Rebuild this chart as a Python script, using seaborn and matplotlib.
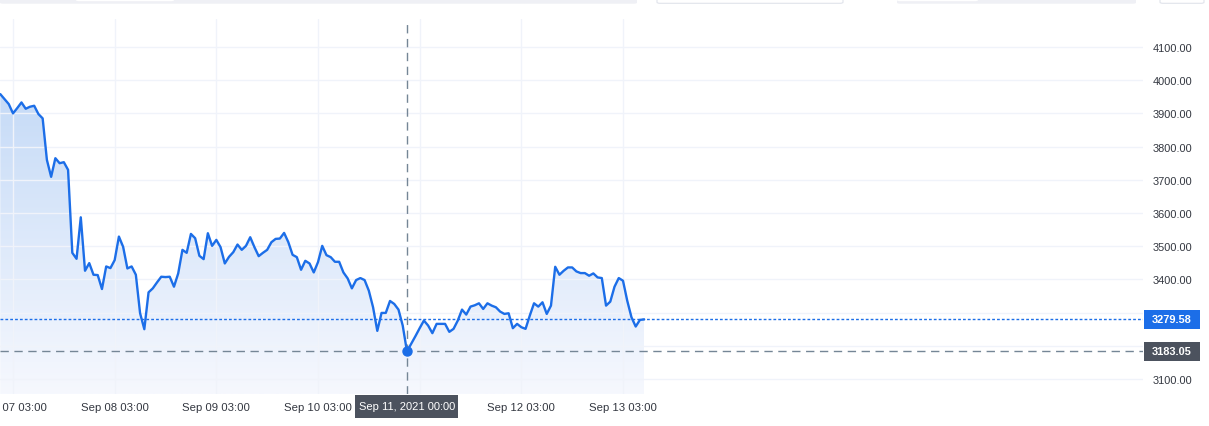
import numpy as np
import pandas as pd
import matplotlib
matplotlib.use("Agg")
import matplotlib.pyplot as plt
import matplotlib.dates as mdates
import matplotlib.transforms as mtransforms
from matplotlib.patches import Rectangle, FancyBboxPatch
from matplotlib.colors import LinearSegmentedColormap
import seaborn as sns

# hourly prices from 2021-09-07 00:00
start_time = "2021-09-07 00:00"
prices = [
    3958, 3943, 3928, 3900, 3916, 3933, 3914, 3920, 3923, 3898,
    3885, 3760, 3709, 3765, 3750, 3753, 3730, 3480, 3462, 3587,
    3426, 3449, 3414, 3413, 3371, 3439, 3434, 3458, 3529, 3498,
    3433, 3439, 3414, 3298, 3250, 3361, 3373, 3391, 3408, 3407,
    3408, 3378, 3418, 3489, 3480, 3537, 3524, 3471, 3461, 3539,
    3501, 3519, 3497, 3448, 3468, 3482, 3505, 3489, 3501, 3527,
    3497, 3470, 3480, 3489, 3512, 3522, 3523, 3540, 3512, 3474,
    3467, 3429, 3456, 3448, 3421, 3452, 3501, 3473, 3467, 3453,
    3453, 3421, 3403, 3373, 3398, 3404, 3398, 3366, 3316, 3245,
    3299, 3299, 3335, 3326, 3309, 3261, 3183.05, 3206, 3229, 3253,
    3276, 3261, 3238, 3266, 3266, 3266, 3242, 3251, 3276, 3309,
    3294, 3318, 3322, 3328, 3311, 3328, 3321, 3316, 3303, 3296,
    3298, 3253, 3266, 3256, 3251, 3291, 3328, 3318, 3331, 3296,
    3321, 3438, 3414, 3426, 3436, 3436, 3424, 3419, 3419, 3411,
    3418, 3406, 3404, 3321, 3333, 3378, 3404, 3396, 3336, 3286,
    3258, 3278, 3279.58,
]
last_price = 3279.58
cross_time = "2021-09-11 00:00"
cross_price = 3183.05
cross_label = "Sep 11, 2021 00:00"

price_ticks = [3100, 3200, 3300, 3400, 3500, 3600, 3700, 3800, 3900, 4000, 4100]
time_ticks = ["2021-09-07 03:00", "2021-09-08 03:00", "2021-09-09 03:00",
              "2021-09-10 03:00", "2021-09-11 03:00", "2021-09-12 03:00",
              "2021-09-13 03:00"]
time_tick_labels = ["Sep 07 03:00", "Sep 08 03:00", "Sep 09 03:00", "Sep 10 03:00",
                    "Sep 11 03:00", "Sep 12 03:00", "Sep 13 03:00"]

LINE = "#1c6ee8"
GRID = "#f0f3fa"
CROSS = "#758696"
LABEL_BG = "#4c525e"
TXT = "#333740"

sns.set_style("white")
plt.rcParams["font.family"] = ["Liberation Sans", "DejaVu Sans"]

df = pd.DataFrame({
    "time": pd.date_range(start_time, periods=len(prices), freq="h"),
    "price": prices,
})
t0 = pd.Timestamp(start_time)
cross_t = pd.Timestamp(cross_time)

W, H = 1209, 427
fig = plt.figure(figsize=(W / 100, H / 100), dpi=100)
ax = fig.add_axes([0, 32 / H, 1143 / W, 375 / H])

ymin, ymax = 3054.8, 4184.3
xmin = t0 - pd.Timedelta(hours=0.07)
xmax = t0 + pd.Timedelta(hours=269.76)

sns.lineplot(data=df, x="time", y="price", ax=ax, color=LINE, linewidth=1.7, zorder=3)

# gradient area under the line
poly = ax.fill_between(df["time"], df["price"], ymin, facecolor="none", linewidth=0)
cmap = LinearSegmentedColormap.from_list("area", ["#f6f8fe", "#c6dbf7"])
grad = np.linspace(1, 0, 256).reshape(-1, 1)
im = ax.imshow(grad, extent=[mdates.date2num(df["time"].iloc[0]), mdates.date2num(df["time"].iloc[-1]),
                             ymin, max(prices)],
               aspect="auto", cmap=cmap, origin="upper", zorder=0)
im.set_clip_path(poly.get_paths()[0], transform=ax.transData)

ax.set_xlim(xmin, xmax)
ax.set_ylim(ymin, ymax)

ax.set_xticks(pd.to_datetime(time_ticks))
ax.set_xticklabels(time_tick_labels)
ax.set_yticks(price_ticks)
ax.set_yticklabels([f"{p:.2f}" for p in price_ticks])
ax.yaxis.tick_right()
ax.tick_params(axis="both", length=0, colors=TXT)
ax.tick_params(axis="x", labelsize=8.2, pad=6)
ax.tick_params(axis="y", labelsize=7.9, pad=7.2)
ax.grid(True, color=GRID, linewidth=1)
ax.set_axisbelow(True)
for s in ax.spines.values():
    s.set_visible(False)
ax.set_xlabel("")
ax.set_ylabel("")

# the time scale hides the tick label sitting under the crosshair label
for t, lab in zip(pd.to_datetime(time_ticks), ax.get_xticklabels()):
    if abs((t - cross_t).total_seconds()) < 12 * 3600:
        lab.set_visible(False)

# last price and crosshair
ax.axhline(last_price, color=LINE, linewidth=1, linestyle=(0, (2, 1.5)), zorder=4)
ax.axhline(cross_price, color=CROSS, linewidth=1, linestyle=(0, (6, 4)), zorder=4)
ax.axvline(cross_t, color=CROSS, linewidth=1, linestyle=(0, (6, 4)), zorder=4)
ax.plot([cross_t], [cross_price], "o", color=LINE, markersize=6.5, zorder=5)

# price labels on right scale
tr = mtransforms.blended_transform_factory(fig.transFigure, ax.transData)
box_h = 19 / (375 / (ymax - ymin))
for val, bg in [(last_price, LINE), (cross_price, LABEL_BG)]:
    fig.add_artist(Rectangle((1144 / W, val - box_h / 2), 56 / W, box_h, transform=tr,
                             facecolor=bg, edgecolor="none", zorder=10, clip_on=False))
    fig.text(1172 / W, val, f"{val:.2f}", transform=tr, color="white", fontsize=7.9,
             fontweight="bold", ha="center", va="center", zorder=11)

# time label under crosshair
trx = mtransforms.blended_transform_factory(ax.transData, fig.transFigure)
half_w = 51.5 / 4.236 / 24
cx = mdates.date2num(cross_t)
fig.add_artist(Rectangle((cx - half_w, (H - 419) / H), 2 * half_w, 23 / H, transform=trx,
                         facecolor=LABEL_BG, edgecolor="none", zorder=10, clip_on=False))
fig.text(cx, (H - 407.5) / H, cross_label, transform=trx, color="white", fontsize=8,
         ha="center", va="center", zorder=11)

# toolbar remnants at top
def px_box(x0, x1, y0, y1, fc, ec="none", r=3):
    fig.add_artist(FancyBboxPatch((x0 / W, 1 - y1 / H), (x1 - x0) / W, (y1 - y0) / H,
                                  boxstyle=f"round,pad=0,rounding_size={r / W}",
                                  transform=fig.transFigure, facecolor=fc, edgecolor=ec,
                                  linewidth=0.8, zorder=12))

px_box(0, 637, -5, 4.7, "#eff0f5")
px_box(76, 174, -5, 2.2, "white")
px_box(657, 843, -5, 4.3, "white", "#e0e3eb")
px_box(897, 1136, -5, 4.7, "#eff0f5")
px_box(897, 978, -5, 2.2, "white")
px_box(1160, 1204, -5, 4.3, "white", "#e0e3eb")

fig.savefig("out.png", dpi=100)
